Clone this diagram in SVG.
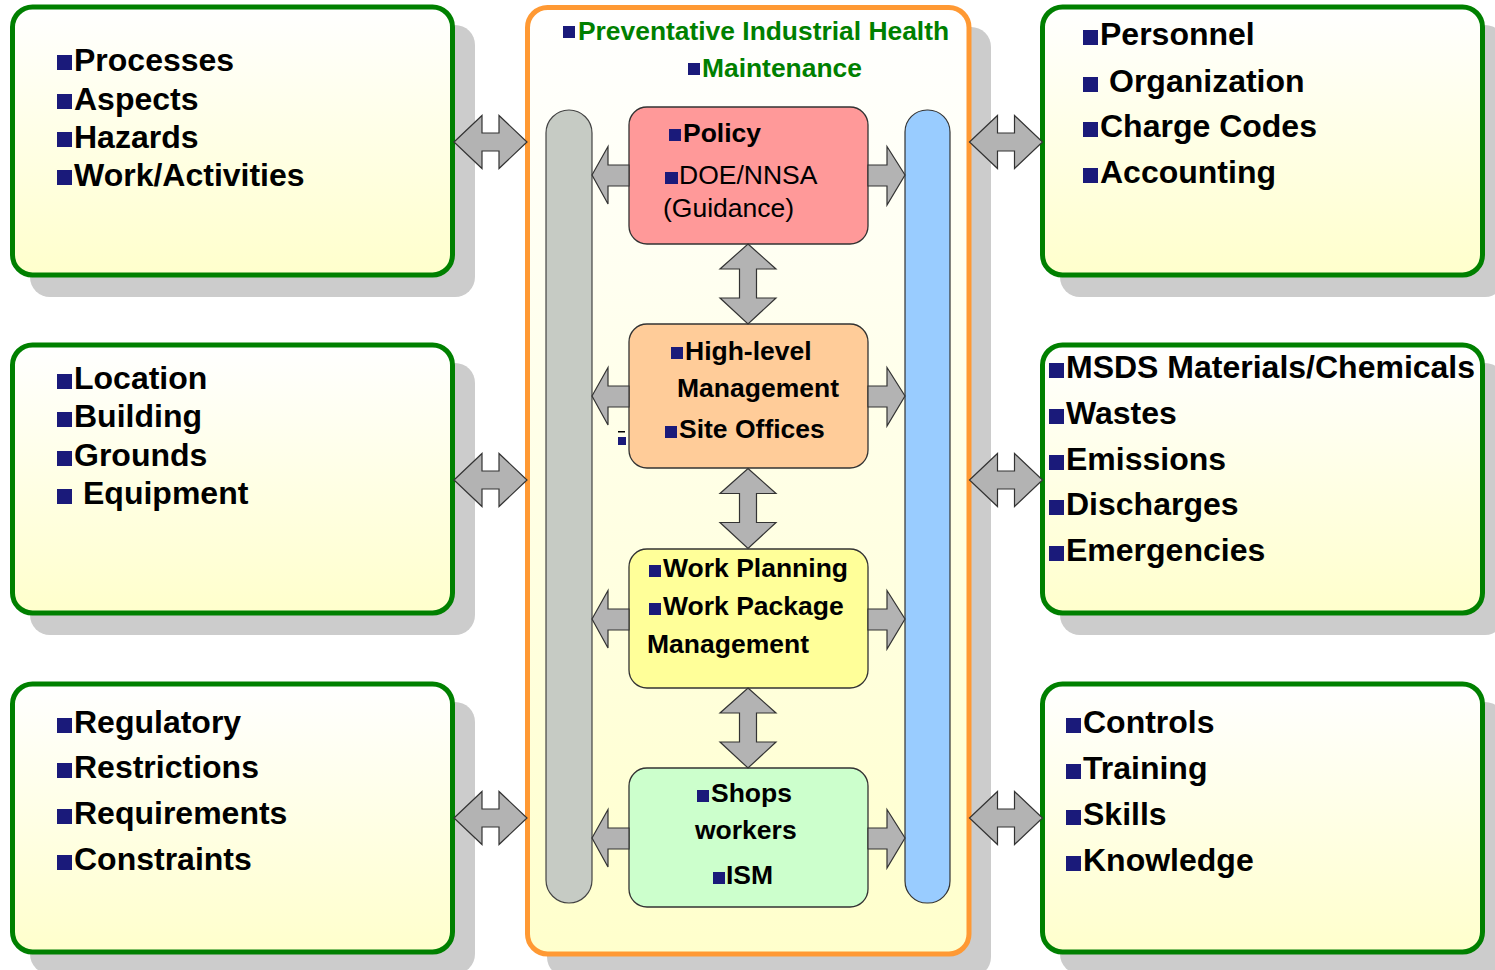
<svg xmlns="http://www.w3.org/2000/svg" width="1495" height="970" viewBox="0 0 1495 970">
<style>
.side{fill:url(#gy);stroke:#008000;stroke-width:5}
.shadow{fill:#cccccc}
.t{font-family:"Liberation Sans",Arial,sans-serif;font-weight:bold;fill:#000}
.s{font-size:32px}
.c{font-size:26.5px}
.g{font-size:26.4px;fill:#008000}
.r{font-weight:normal}
.b{fill:#1a1a7a}
.arr{fill:#b3b3b3;stroke:#333;stroke-width:1.2;stroke-linejoin:miter}
.cb{stroke:#333;stroke-width:1.3}
</style>
<defs>
<linearGradient id="gy" x1="0" y1="0" x2="0" y2="1">
<stop offset="0" stop-color="#ffffff"/>
<stop offset="1" stop-color="#ffffcc"/>
</linearGradient>
<path id="hA" d="M-36.5,0 L-8.5,-26.5 L-8.5,-9 L8.5,-9 L8.5,-26.5 L36.5,0 L8.5,26.5 L8.5,9 L-8.5,9 L-8.5,26.5 Z"/>
<path id="vA" d="M0,-40 L28,-15 L8.5,-15 L8.5,14 L28,14 L0,40 L-28,14 L-8.5,14 L-8.5,-15 L-28,-15 Z"/>
</defs>
<rect width="1495" height="970" fill="#ffffff"/>

<g id="center">
<rect class="shadow" x="547" y="27" width="444" height="950" rx="20"/>
<rect x="527.5" y="7.5" width="441.5" height="946.5" rx="20" fill="url(#gy)" stroke="#ff9933" stroke-width="5"/>
<rect class="b" x="563" y="26" width="12" height="12"/>
<text class="t g" x="578" y="39.5">Preventative Industrial Health</text>
<rect class="b" x="688" y="63" width="12" height="12"/>
<text class="t g" x="702" y="77">Maintenance</text>
</g>

<g id="pillar-left"><rect x="546" y="110" width="46" height="793" rx="23" fill="#c6cbc4" stroke="#444" stroke-width="1.2"/></g>
<g id="pillar-right"><rect x="905" y="110" width="45" height="793" rx="22" fill="#99ccff" stroke="#333" stroke-width="1.2"/></g>

<g id="policy">
<rect class="cb" x="629" y="107" width="239" height="137" rx="18" fill="#ff9999"/>
<rect class="b" x="669" y="129" width="12" height="12"/>
<text class="t c" x="683" y="141.5">Policy</text>
<rect class="b" x="665" y="172" width="13" height="12"/>
<text class="t c r" x="679" y="184">DOE/NNSA</text>
<text class="t c r" x="663" y="216.5">(Guidance)</text>
</g>

<g id="management">
<rect class="cb" x="629" y="324" width="239" height="144" rx="18" fill="#ffcc99"/>
<rect class="b" x="671" y="347" width="12" height="12"/>
<text class="t c" x="685" y="360">High-level</text>
<text class="t c" x="677" y="397">Management</text>
<rect class="b" x="665" y="426" width="12" height="12"/>
<text class="t c" x="679" y="438">Site Offices</text>
<rect class="b" x="618" y="437" width="8" height="8"/>
<rect x="618" y="431" width="7" height="1.5" fill="#000"/>
</g>

<g id="planning">
<rect class="cb" x="629" y="549" width="239" height="139" rx="18" fill="#ffff99"/>
<rect class="b" x="649" y="565" width="12" height="12"/>
<text class="t c" x="663" y="577">Work Planning</text>
<rect class="b" x="649" y="603" width="12" height="12"/>
<text class="t c" x="663" y="615">Work Package</text>
<text class="t c" x="647" y="653">Management</text>
</g>

<g id="shops">
<rect class="cb" x="629" y="768" width="239" height="139" rx="18" fill="#ccffcc"/>
<rect class="b" x="697" y="790" width="12" height="12"/>
<text class="t c" x="711" y="802">Shops</text>
<text class="t c" x="695" y="839">workers</text>
<rect class="b" x="713" y="872" width="12" height="12"/>
<text class="t c" x="726" y="884">ISM</text>
</g>

<g id="box-processes">
<rect class="shadow" x="30" y="25" width="445" height="272" rx="20"/>
<rect class="side" x="12.5" y="7" width="440" height="268" rx="20"/>
<rect class="b" x="57" y="55" width="15" height="15"/><text class="t s" x="74" y="70.5">Processes</text>
<rect class="b" x="57" y="94" width="15" height="15"/><text class="t s" x="74" y="109.5">Aspects</text>
<rect class="b" x="57" y="132" width="15" height="15"/><text class="t s" x="74" y="147.5">Hazards</text>
<rect class="b" x="57" y="170" width="15" height="15"/><text class="t s" x="74" y="185.5">Work/Activities</text>
</g>

<g id="box-location">
<rect class="shadow" x="30" y="363" width="445" height="272" rx="20"/>
<rect class="side" x="12.5" y="345" width="440" height="268" rx="20"/>
<rect class="b" x="57" y="374" width="15" height="15"/><text class="t s" x="74" y="389">Location</text>
<rect class="b" x="57" y="412" width="15" height="15"/><text class="t s" x="74" y="427">Building</text>
<rect class="b" x="57" y="451" width="15" height="15"/><text class="t s" x="74" y="466">Grounds</text>
<rect class="b" x="57" y="489" width="15" height="15"/><text class="t s" x="83" y="504">Equipment</text>
</g>

<g id="box-regulatory">
<rect class="shadow" x="30" y="702" width="445" height="272" rx="20"/>
<rect class="side" x="12.5" y="684" width="440" height="268" rx="20"/>
<rect class="b" x="57" y="718" width="15" height="15"/><text class="t s" x="74" y="733">Regulatory</text>
<rect class="b" x="57" y="763" width="15" height="15"/><text class="t s" x="74" y="778">Restrictions</text>
<rect class="b" x="57" y="809" width="15" height="15"/><text class="t s" x="74" y="824">Requirements</text>
<rect class="b" x="57" y="855" width="15" height="15"/><text class="t s" x="74" y="870">Constraints</text>
</g>

<g id="box-personnel">
<rect class="shadow" x="1060" y="25" width="445" height="272" rx="20"/>
<rect class="side" x="1042.5" y="7" width="440" height="268" rx="20"/>
<rect class="b" x="1083" y="30" width="15" height="15"/><text class="t s" x="1100" y="45">Personnel</text>
<rect class="b" x="1083" y="77" width="15" height="15"/><text class="t s" x="1109" y="92">Organization</text>
<rect class="b" x="1083" y="122" width="15" height="15"/><text class="t s" x="1100" y="137">Charge Codes</text>
<rect class="b" x="1083" y="168" width="15" height="15"/><text class="t s" x="1100" y="183">Accounting</text>
</g>

<g id="box-msds">
<rect class="shadow" x="1060" y="363" width="445" height="272" rx="20"/>
<rect class="side" x="1042.5" y="345" width="440" height="268" rx="20"/>
<rect class="b" x="1049" y="363" width="15" height="15"/><text class="t s" x="1066" y="378">MSDS Materials/Chemicals</text>
<rect class="b" x="1049" y="409" width="15" height="15"/><text class="t s" x="1066" y="424">Wastes</text>
<rect class="b" x="1049" y="455" width="15" height="15"/><text class="t s" x="1066" y="470">Emissions</text>
<rect class="b" x="1049" y="500" width="15" height="15"/><text class="t s" x="1066" y="515">Discharges</text>
<rect class="b" x="1049" y="546" width="15" height="15"/><text class="t s" x="1066" y="561">Emergencies</text>
</g>

<g id="box-controls">
<rect class="shadow" x="1060" y="702" width="445" height="272" rx="20"/>
<rect class="side" x="1042.5" y="684" width="440" height="268" rx="20"/>
<rect class="b" x="1066" y="718" width="15" height="15"/><text class="t s" x="1083" y="733">Controls</text>
<rect class="b" x="1066" y="764" width="15" height="15"/><text class="t s" x="1083" y="779">Training</text>
<rect class="b" x="1066" y="810" width="15" height="15"/><text class="t s" x="1083" y="825">Skills</text>
<rect class="b" x="1066" y="856" width="15" height="15"/><text class="t s" x="1083" y="871">Knowledge</text>
</g>

<g id="connectors">
<use href="#hA" class="arr" transform="translate(490.5,142)"/>
<use href="#hA" class="arr" transform="translate(490.5,480)"/>
<use href="#hA" class="arr" transform="translate(490.5,818)"/>
<use href="#hA" class="arr" transform="translate(1006,142)"/>
<use href="#hA" class="arr" transform="translate(1006,480)"/>
<use href="#hA" class="arr" transform="translate(1006,818)"/>
<use href="#vA" class="arr" transform="translate(748,284)"/>
<use href="#vA" class="arr" transform="translate(748,508.5)"/>
<use href="#vA" class="arr" transform="translate(748,728)"/>
<path class="arr" d="M592,175 L608,146.5 L608,165 L629,165 L629,186 L608,186 L608,204 Z"/>
<path class="arr" d="M868,165 L887,165 L887,146.5 L905,175 L887,205 L887,186 L868,186 Z"/>
<path class="arr" d="M592,396 L608,367.5 L608,386 L629,386 L629,407 L608,407 L608,425 Z"/>
<path class="arr" d="M868,386 L887,386 L887,367.5 L905,396 L887,426 L887,407 L868,407 Z"/>
<path class="arr" d="M592,619 L608,590.5 L608,609 L629,609 L629,630 L608,630 L608,648 Z"/>
<path class="arr" d="M868,609 L887,609 L887,590.5 L905,619 L887,649 L887,630 L868,630 Z"/>
<path class="arr" d="M592,838 L608,809.5 L608,828 L629,828 L629,849 L608,849 L608,867 Z"/>
<path class="arr" d="M868,828 L887,828 L887,809.5 L905,838 L887,868 L887,849 L868,849 Z"/>
</g>
</svg>
